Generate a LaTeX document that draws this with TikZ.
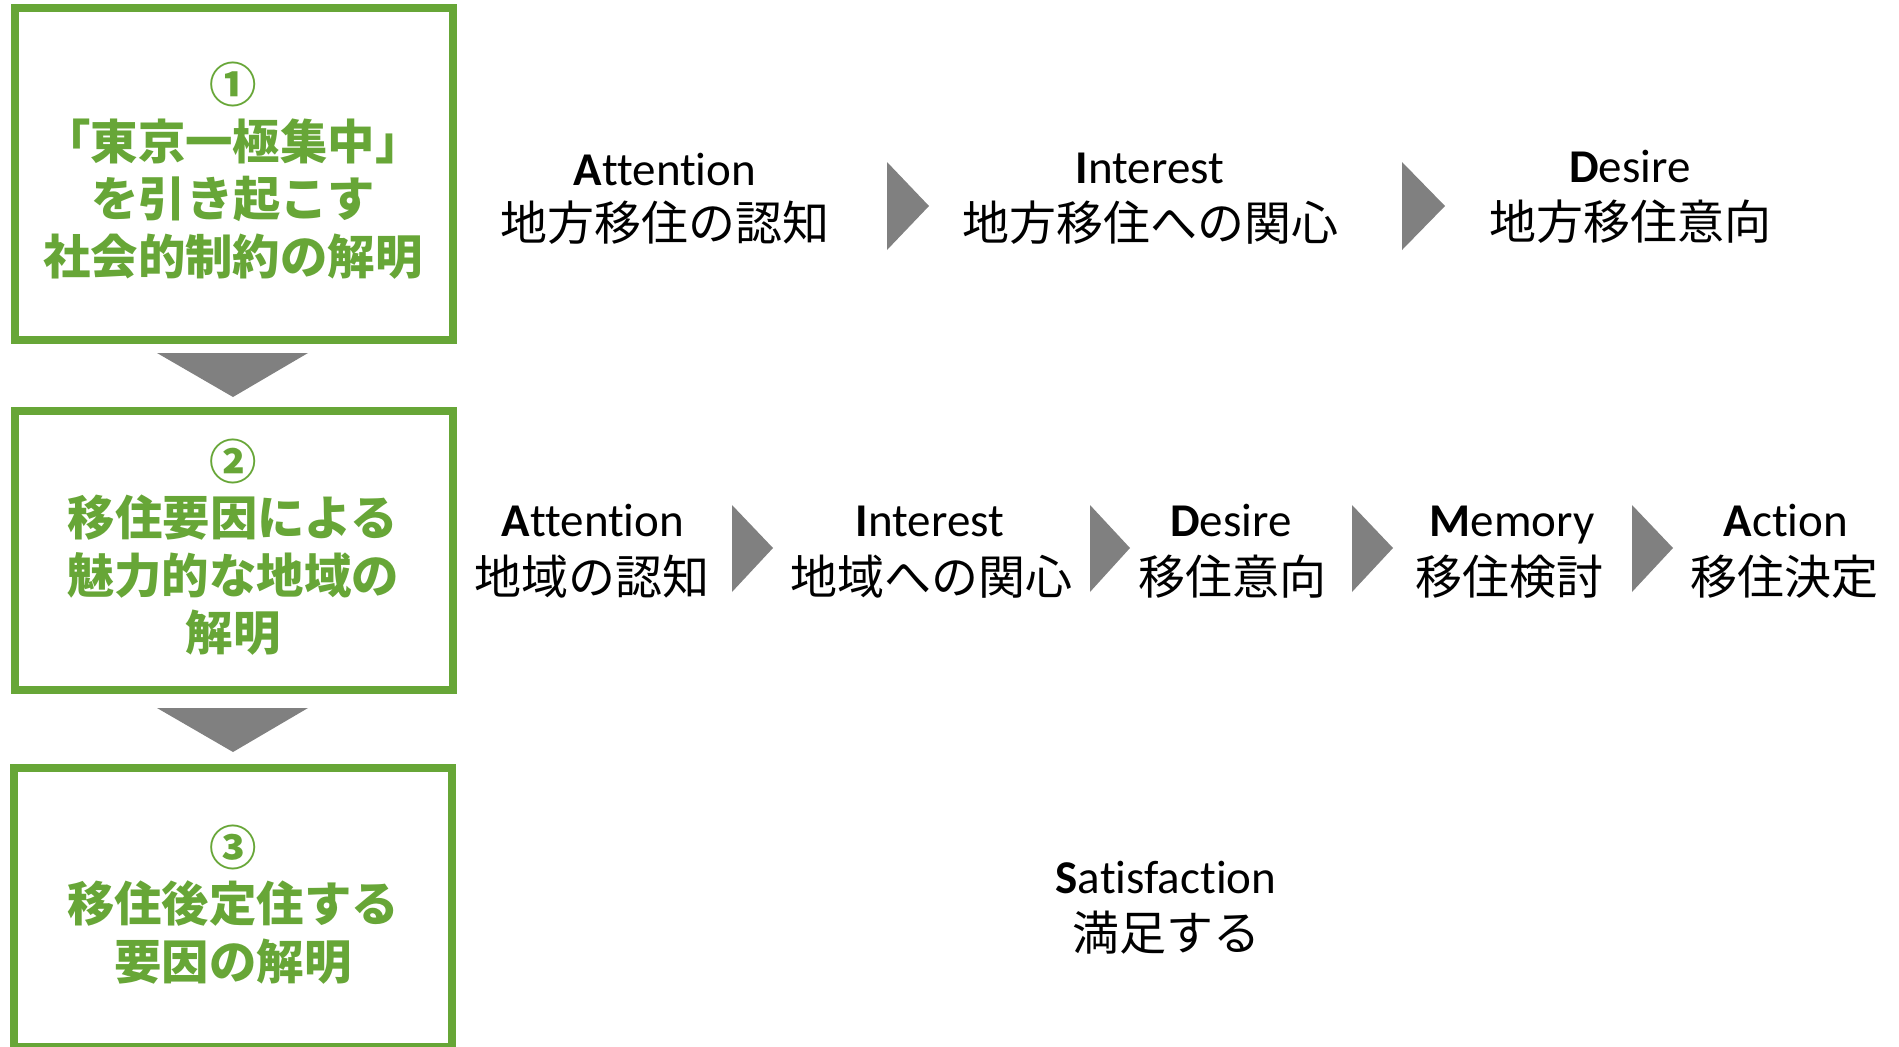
\documentclass[tikz,border=0pt]{standalone}
\usepackage{fontspec}
\setmainfont{Carlito}[Ligatures=NoCommon]
\newfontfamily\jp{Noto Sans CJK JP}
\definecolor{grn}{HTML}{67A637}
\definecolor{chev}{HTML}{808080}
\tikzset{
  box/.style={draw=grn, line width=8.5pt, minimum width=438pt, inner sep=0pt, rectangle},
  gtxt/.style={anchor=base, text=grn, font=\jp\bfseries\fontsize{47.4}{50}\selectfont, inner sep=0pt},
  etxt/.style={anchor=base, font=\fontsize{47}{50}\selectfont, inner sep=0pt},
  jtxt/.style={anchor=base, font=\jp\fontsize{47}{50}\selectfont, inner sep=0pt},
  chevron/.style={fill=chev, draw=none},
}
\begin{document}
\begin{tikzpicture}[x=1pt, y=-1pt]
\useasboundingbox (0,0) rectangle (1899,1047);
% left boxes
\node[box, minimum height=332pt] (b1) at (234,174) {};
\node[box, minimum height=279pt] (b2) at (234,550.5) {};
\node[box, minimum height=279.5pt] (b3) at (233,907.75) {};
% down triangles
\fill[chevron] (157,353) -- (308,353) -- (233,397) -- cycle;
\fill[chevron] (157,708) -- (308,708) -- (233,752) -- cycle;
% box 1 text
\node[gtxt] (g11) at (233,102) {①};
\node[gtxt] (g12) at (233,159) {「東京一極集中」};
\node[gtxt] (g13) at (233,216) {を引き起こす};
\node[gtxt] (g14) at (233,274) {社会的制約の解明};
% box 2 text
\node[gtxt] (g21) at (233,479) {②};
\node[gtxt] (g22) at (233,535) {移住要因による};
\node[gtxt] (g23) at (233,593) {魅力的な地域の};
\node[gtxt] (g24) at (233,650) {解明};
% box 3 text
\node[gtxt] (g31) at (233,865) {③};
\node[gtxt] (g32) at (233,921) {移住後定住する};
\node[gtxt] (g33) at (233,979) {要因の解明};
% row 1
\node[etxt] (r1ae) at (665,185) {\textbf{A}ttention};
\node[jtxt] (r1aj) at (665,240) {地方移住の認知};
\fill[chevron] (887,162) -- (929,206) -- (887,250) -- cycle;
\node[etxt] (r1ie) at (1150,183) {\textbf{I}nterest};
\node[jtxt] (r1ij) at (1150,240) {地方移住への関心};
\fill[chevron] (1402,162) -- (1445,206) -- (1402,250) -- cycle;
\node[etxt] (r1de) at (1630,182) {\textbf{D}esire};
\node[jtxt] (r1dj) at (1630,239) {地方移住意向};
% row 2
\node[etxt] (r2ae) at (593,536) {\textbf{A}ttention};
\node[jtxt] (r2aj) at (592,594) {地域の認知};
\fill[chevron] (732,505) -- (773,548) -- (732,592) -- cycle;
\node[etxt] (r2ie) at (930,536) {\textbf{I}nterest};
\node[jtxt] (r2ij) at (931,594) {地域への関心};
\fill[chevron] (1090,505) -- (1130,548) -- (1090,592) -- cycle;
\node[etxt] (r2de) at (1231,536) {\textbf{D}esire};
\node[jtxt] (r2dj) at (1232,594) {移住意向};
\fill[chevron] (1352,505) -- (1393,548) -- (1352,592) -- cycle;
\node[etxt] (r2me) at (1512,536) {\textbf{M}emory};
\node[jtxt] (r2mj) at (1509,594) {移住検討};
\fill[chevron] (1632,505) -- (1673,548) -- (1632,592) -- cycle;
\node[etxt] (r2xe) at (1786,536) {\textbf{A}ction};
\node[jtxt] (r2xj) at (1784,594) {移住決定};
% satisfaction
\node[etxt] (se) at (1166,893) {\textbf{S}atisfaction};
\node[jtxt] (sj) at (1166,950) {満足する};
\end{tikzpicture}
\end{document}
